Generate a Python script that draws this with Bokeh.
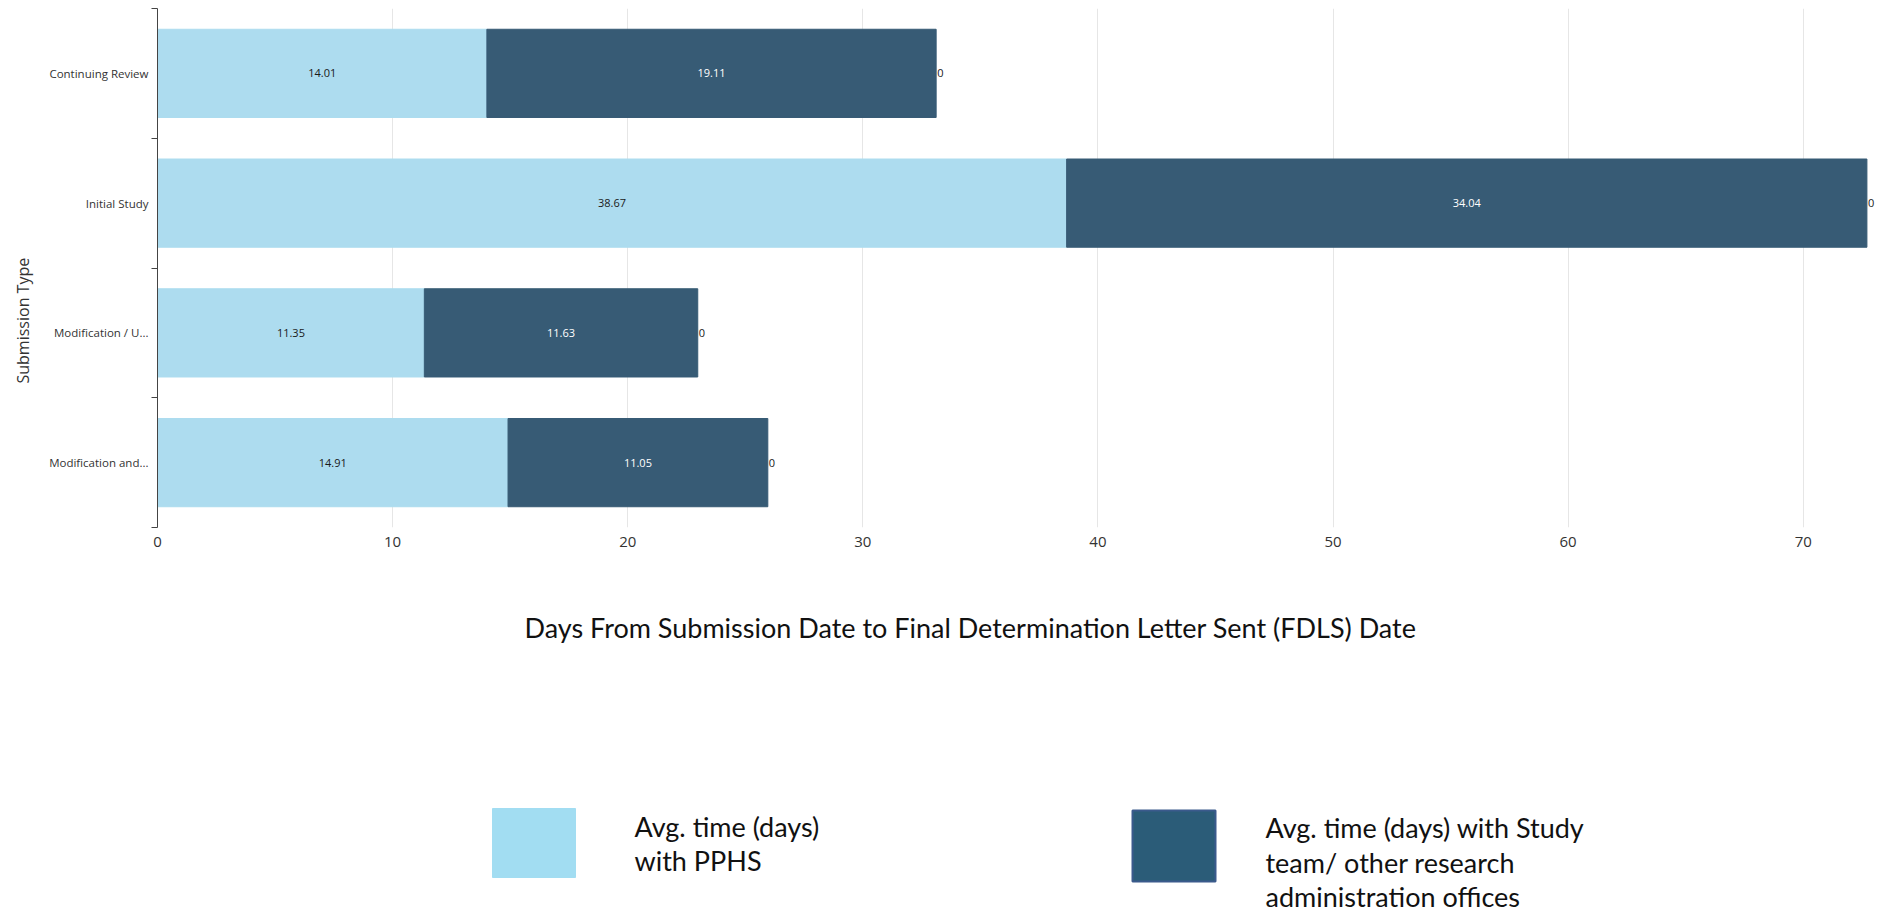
from bokeh.plotting import figure
from bokeh.models import ColumnDataSource, FixedTicker, Range1d, Title
from bokeh.layouts import column
from bokeh.core.properties import value
from bokeh.embed import file_html
from bokeh.resources import INLINE

# ---- data ----
categories = ["Continuing Review", "Initial Study", "Modification / U...", "Modification and..."]
pphs = [14.01, 38.67, 11.35, 14.91]
study = [19.11, 34.04, 11.63, 11.05]
extra = [0, 0, 0, 0]
x_ticks = [0, 10, 20, 30, 40, 50, 60, 70]
x_title = "Days From Submission Date to Final Determination Letter Sent (FDLS) Date"
y_title = "Submission Type"
legend_pphs = ["Avg. time (days)", "with PPHS"]
legend_study = ["Avg. time (days) with Study", "team/ other research", "administration offices"]

LIGHT = "#ADDCEF"
DARK = "#375B75"

n = len(categories)
ypos = [n - 1 - i + 0.5 for i in range(n)]
total = [a + b for a, b in zip(pphs, study)]

src = ColumnDataSource(dict(
    y=ypos,
    zero=[0] * n,
    pphs=pphs,
    total=total,
    mid1=[a / 2 for a in pphs],
    mid2=[a + b / 2 for a, b in zip(pphs, study)],
    lab1=[f"{v:.2f}" for v in pphs],
    lab2=[f"{v:.2f}" for v in study],
    lab3=[f"{v:g}" for v in extra],
))

W = 1877
H_MAIN = 575
H_LEG = 913 - H_MAIN

p = figure(width=W, height=H_MAIN, x_range=Range1d(0, 73.16), y_range=Range1d(0, n),
           output_backend="svg", toolbar_location=None,
           min_border_left=157, min_border_right=0, min_border_top=8, min_border_bottom=48)
p.frame_align = False
p.outline_line_color = None
p.background_fill_color = "white"

p.hbar(y="y", left="zero", right="pphs", height=0.68, source=src,
       fill_color=LIGHT, line_color=LIGHT)
p.hbar(y="y", left="pphs", right="total", height=0.68, source=src,
       fill_color=DARK, line_color=DARK)

p.text(x="mid1", y="y", text="lab1", source=src, text_align="center", text_baseline="middle",
       text_font=value("Open Sans"), text_font_size="11px", text_color="#1a1a1a")
p.text(x="mid2", y="y", text="lab2", source=src, text_align="center", text_baseline="middle",
       text_font=value("Open Sans"), text_font_size="11px", text_color="white")
p.text(x="total", y="y", text="lab3", source=src, text_align="left", text_baseline="middle",
       x_offset=1, text_font=value("Open Sans"), text_font_size="11px", text_color="#1a1a1a")

# x axis
p.xaxis.ticker = FixedTicker(ticks=x_ticks)
p.xaxis.axis_line_color = None
p.xaxis.major_tick_line_color = None
p.xaxis.minor_tick_line_color = None
p.xaxis.major_tick_out = 0
p.xaxis.major_label_standoff = 9
p.xaxis.major_label_text_font = "Open Sans"
p.xaxis.major_label_text_font_size = "15px"
p.xaxis.major_label_text_color = "#333333"
p.xgrid.grid_line_color = "#E6E6E6"
p.xgrid.ticker = FixedTicker(ticks=x_ticks)
p.ygrid.grid_line_color = None

# y axis: labels at band centres, ticks at band boundaries
p.yaxis.ticker = FixedTicker(ticks=ypos, minor_ticks=list(range(n + 1)))
p.yaxis.major_label_overrides = {y: c for y, c in zip(ypos, categories)}
p.yaxis.major_tick_line_color = None
p.yaxis.major_tick_out = 0
p.yaxis.major_tick_in = 0
p.yaxis.minor_tick_out = 6
p.yaxis.minor_tick_in = 0
p.yaxis.minor_tick_line_color = "#444444"
p.yaxis.axis_line_color = "#444444"
p.yaxis.major_label_standoff = 3
p.yaxis.major_label_text_font = "Open Sans"
p.yaxis.major_label_text_font_size = "11.5px"
p.yaxis.major_label_text_color = "#333333"

# y axis title, placed a little below the frame centre as in the original
p.add_layout(Title(text=y_title, align="left", vertical_align="top", offset=144, standoff=21,
                   text_font="Open Sans", text_font_size="16px", text_font_style="normal",
                   text_color="#333333"), "left")

# ---- lower panel: axis title + legend (pixel coordinates) ----
q = figure(width=W, height=H_LEG, x_range=Range1d(0, W), y_range=Range1d(H_LEG, 0),
           output_backend="svg", toolbar_location=None,
           min_border_left=0, min_border_right=0, min_border_top=0, min_border_bottom=0)
q.frame_align = False
q.axis.visible = False
q.grid.grid_line_color = None
q.outline_line_color = None

q.text(x=[970], y=[52], text=[x_title], text_align="center", text_baseline="middle",
       text_font=value("Lato"), text_font_size="27px", text_color="#111111")

q.quad(left=[492], right=[575], top=[233], bottom=[302], fill_color="#A2DDF2", line_color="#A2DDF2")
q.quad(left=[1132], right=[1215], top=[235], bottom=[306], fill_color="#2B5C78",
       line_color="#3B5A8C", line_width=2)

q.text(x=[634] * len(legend_pphs), y=[251 + 34 * i for i in range(len(legend_pphs))],
       text=legend_pphs, text_align="left", text_baseline="middle",
       text_font=value("Lato"), text_font_size="27px", text_color="#111111")
q.text(x=[1265] * len(legend_study), y=[252 + 34.5 * i for i in range(len(legend_study))],
       text=legend_study, text_align="left", text_baseline="middle",
       text_font=value("Lato"), text_font_size="27px", text_color="#111111")

layout = column(p, q, spacing=0)
open("out.html", "w").write(file_html(layout, INLINE))
